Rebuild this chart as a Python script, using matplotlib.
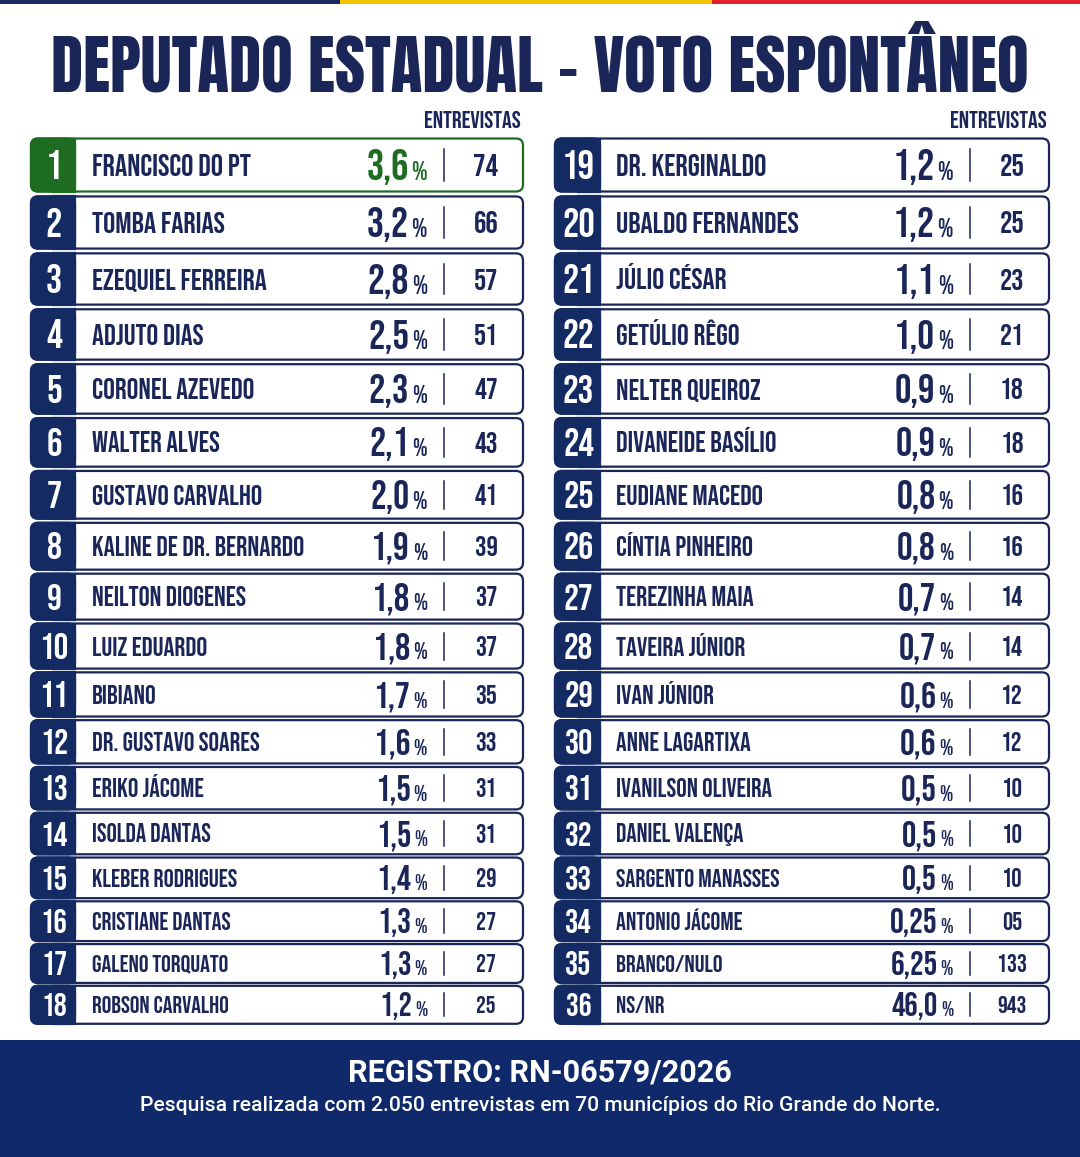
import numpy as np
import matplotlib
matplotlib.use("Agg")
import matplotlib.pyplot as plt
from matplotlib import font_manager
from matplotlib.font_manager import FontProperties
from matplotlib.textpath import TextPath
from matplotlib.patches import FancyBboxPatch, Rectangle

# ---- data ----
names = ["FRANCISCO DO PT", "TOMBA FARIAS", "EZEQUIEL FERREIRA", "ADJUTO DIAS",
         "CORONEL AZEVEDO", "WALTER ALVES", "GUSTAVO CARVALHO", "KALINE DE DR. BERNARDO",
         "NEILTON DIOGENES", "LUIZ EDUARDO", "BIBIANO", "DR. GUSTAVO SOARES",
         "ERIKO JÁCOME", "ISOLDA DANTAS", "KLEBER RODRIGUES", "CRISTIANE DANTAS",
         "GALENO TORQUATO", "ROBSON CARVALHO",
         "DR. KERGINALDO", "UBALDO FERNANDES", "JÚLIO CÉSAR", "GETÚLIO RÊGO",
         "NELTER QUEIROZ", "DIVANEIDE BASÍLIO", "EUDIANE MACEDO", "CÍNTIA PINHEIRO",
         "TEREZINHA MAIA", "TAVEIRA JÚNIOR", "IVAN JÚNIOR", "ANNE LAGARTIXA",
         "IVANILSON OLIVEIRA", "DANIEL VALENÇA", "SARGENTO MANASSES", "ANTONIO JÁCOME",
         "BRANCO/NULO", "NS/NR"]
pct = [3.6, 3.2, 2.8, 2.5, 2.3, 2.1, 2.0, 1.9, 1.8, 1.8, 1.7, 1.6, 1.5, 1.5, 1.4, 1.3, 1.3, 1.2,
       1.2, 1.2, 1.1, 1.0, 0.9, 0.9, 0.8, 0.8, 0.7, 0.7, 0.6, 0.6, 0.5, 0.5, 0.5, 0.25, 6.25, 46.0]
counts = [74, 66, 57, 51, 47, 43, 41, 39, 37, 37, 35, 33, 31, 31, 29, 27, 27, 25,
          25, 25, 23, 21, 18, 18, 16, 16, 14, 14, 12, 12, 10, 10, 10, 5, 133, 943]
ranks = list(range(1, len(names) + 1))

title = "DEPUTADO ESTADUAL – VOTO ESPONTÂNEO"
col_header = "ENTREVISTAS"
registro = "REGISTRO: RN-06579/2026"
nota = "Pesquisa realizada com 2.050 entrevistas em 70 municípios do Rio Grande do Norte."

navy = "#1a2558"
tab_navy = "#142a62"
green = "#1e6b22"
footer_bg = "#10296a"

# ---- fonts ----
fam_names = {f.name for f in font_manager.fontManager.ttflist}


def pick(cands, default="DejaVu Sans"):
    for c in cands:
        if c in fam_names:
            return c
    return default


title_font = pick(["Anton", "Bebas Neue", "League Gothic", "Fjalla One", "Roboto Condensed"])
row_font = pick(["Bebas Neue", "Fjalla One", "Barlow Condensed", "Roboto Condensed"])
tk = dict(family=title_font, weight="bold")
ck = dict(family=row_font, weight="bold")

fig = plt.figure(figsize=(10.8, 11.57), dpi=100)
ax = fig.add_axes([0, 0, 1, 1])
ax.set_xlim(0, 1080)
ax.set_ylim(1157, 0)
ax.axis("off")
renderer = fig.canvas.get_renderer()
PX = 100 / 72


def cap_ratio(**kw):
    fp = FontProperties(family=kw.get("family"), weight=kw.get("weight", "normal"))
    return TextPath((0, 0), "H", size=100, prop=fp).get_extents().height / 100


def text_w(sample, size, **kw):
    t = ax.text(0, 0, sample, fontsize=size, **kw)
    w = t.get_window_extent(renderer).width
    t.remove()
    return w


def fit_size(sample, width, cap, **kw):
    w = text_w(sample, 100, **kw)
    return min(100 * width / w, cap / (PX * cap_ratio(**kw)))


# top stripe
ax.add_patch(Rectangle((0, 0), 340, 4, fc="#1b2a5e", lw=0))
ax.add_patch(Rectangle((340, 0), 372, 4, fc="#f3c300", lw=0))
ax.add_patch(Rectangle((712, 0), 368, 4, fc="#e3212b", lw=0))

ts = fit_size(title, 990, 56, **tk)
ax.text(540, 92, title, fontsize=ts, color=navy, ha="center", va="baseline", **tk)

# layout of the two columns
per_col = 18
gaps = np.linspace(57.5, 41.3, per_col - 1)
centers = 165 + np.concatenate([[0], np.cumsum(gaps)])
heights = np.linspace(53, 38, per_col)
scales = (heights / heights[0]) ** 0.75
cols = [(31, 523, 44), (555, 1049, 45)]
cr = cap_ratio(**ck) * PX

rank_size = fit_size("88", 33, 38, **ck)
name_size = min(fit_size("KALINE DE DR. BERNARDO", 213, 22, **ck) / scales[7],
                fit_size("FRANCISCO DO PT", 166, 24, **ck))
pct_size = fit_size("3,6", 52, 30, **ck)
sign_size = pct_size * 0.62
sign_w = text_w("%", sign_size, **ck)
cnt_size = fit_size("74", 25, 24, **ck)
hdr_size = fit_size(col_header, 97, 17, **ck)

for x0, x1, nb in cols:
    ax.text(x1 - 2, 128, col_header, fontsize=hdr_size, color=navy, ha="right", va="baseline", **ck)

for i, (rk, name, p, n) in enumerate(zip(ranks, names, pct, counts)):
    col, r = divmod(i, per_col)
    x0, x1, nb = cols[col]
    cy, h, s = centers[r], heights[r], scales[r]
    lead = i == 0
    edge = green if lead else navy
    fill = green if lead else tab_navy
    ax.add_patch(FancyBboxPatch((x0, cy - h / 2), x1 - x0, h,
                                boxstyle="round,pad=0,rounding_size=7",
                                fc="white", ec=edge, lw=1.6, zorder=2))
    ax.add_patch(FancyBboxPatch((x0, cy - h / 2), nb, h,
                                boxstyle="round,pad=0,rounding_size=7",
                                fc=fill, ec=fill, lw=1.6, zorder=3))
    ax.add_patch(Rectangle((x0 + nb / 2, cy - h / 2), nb / 2, h, fc=fill, ec=fill, lw=1.6, zorder=3))

    rs = rank_size * s
    ax.text(x0 + nb / 2 + 1, cy + rs * cr / 2, str(rk), fontsize=rs, color="white",
            ha="center", va="baseline", zorder=4, **ck)
    ns = name_size * s
    ax.text(x0 + 61, cy + ns * cr / 2, name, fontsize=ns, color=navy,
            ha="left", va="baseline", zorder=4, **ck)
    ps = pct_size * s
    pc = green if lead else navy
    base = cy + ps * cr / 2
    ax.text(x1 - 96, base, "%", fontsize=sign_size * s, color=pc,
            ha="right", va="baseline", zorder=4, **ck)
    ax.text(x1 - 99 - sign_w * s, base, str(p).replace(".", ","), fontsize=ps, color=pc,
            ha="right", va="baseline", zorder=4, **ck)
    ax.plot([x1 - 79, x1 - 79], [cy - 0.3 * h, cy + 0.3 * h], color=navy, lw=1.1, zorder=4)
    cs = cnt_size * s
    ax.text(x1 - 37, cy + cs * cr / 2, f"{n:02d}", fontsize=cs, color=navy,
            ha="center", va="baseline", zorder=4, **ck)

# footer
fk = dict(family="Roboto", weight="bold")
ax.add_patch(Rectangle((0, 1040), 1080, 117, fc=footer_bg, lw=0))
rs_ = fit_size(registro, 385, 25, **fk)
ax.text(540, 1082, registro, fontsize=rs_, color="white", ha="center", va="baseline", **fk)
nk = dict(family="Roboto", weight="medium")
ns_ = fit_size(nota, 810, 15, **nk)
ax.text(540, 1111, nota, fontsize=ns_, color="white", ha="center", va="baseline", **nk)

fig.savefig("out.png", dpi=100, facecolor="white")
